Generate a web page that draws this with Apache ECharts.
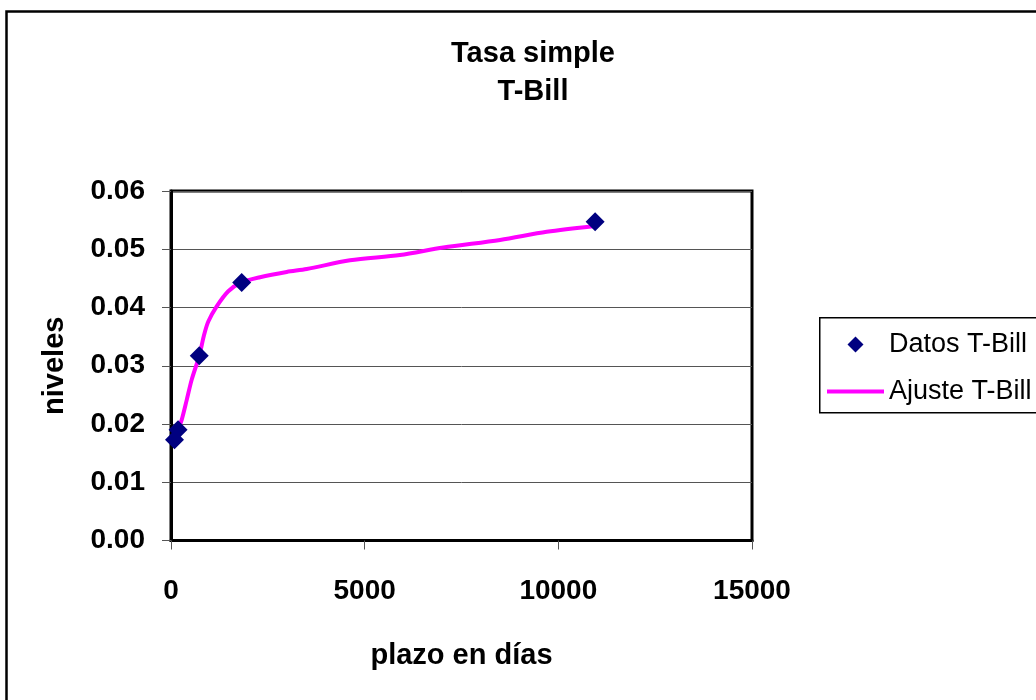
<!DOCTYPE html>
<html>
<head>
<meta charset="utf-8">
<script src="https://cdn.jsdelivr.net/npm/echarts@6/dist/echarts.min.js"></script>
<style>html,body{margin:0;padding:0;background:#fff}#c{width:1036px;height:700px}</style>
</head>
<body>
<div id="c"></div>
<script>
const titleLines = ['Tasa simple', 'T-Bill'];
const xAxisName = 'plazo en días';
const yAxisName = 'niveles';
const seriesNames = ['Datos T-Bill', 'Ajuste T-Bill'];
const xTicks = [0, 5000, 10000, 15000];
const yTicks = [0, 0.01, 0.02, 0.03, 0.04, 0.05, 0.06];

const datosX = [90, 182, 730, 1825, 10950];
const datosY = [0.0173, 0.0190, 0.0317, 0.0443, 0.0547];

const ajusteX = [90, 182, 276, 405, 534, 730, 850, 963, 1180, 1479, 1825, 2298, 2987, 3504, 4621, 5912, 7030, 8496, 9700, 10950];
const ajusteY = [0.0172, 0.0190, 0.0207, 0.0241, 0.0276, 0.0317, 0.0352, 0.0376, 0.0402, 0.0428, 0.0443, 0.0452, 0.0461, 0.0466, 0.0481, 0.0490, 0.0503, 0.0516, 0.0530, 0.0540];

const FONT = '"Liberation Sans", Arial, sans-serif';
const chart = echarts.init(document.getElementById('c'), null, {renderer: 'canvas'});

const legendText = {fontFamily: FONT, fontSize: 27, color: '#000'};
// diamond icon centred inside a 57x16 box (move commands set the box)
const diamondIcon = 'path://M0,0M57,16M20.5,8L28.5,0L36.5,8L28.5,16Z';

chart.setOption({
  backgroundColor: '#fff',
  animation: false,
  title: {
    text: titleLines.join('\n'),
    left: 528,
    top: 30,
    textAlign: 'center',
    textStyle: {fontFamily: FONT, fontSize: 29, fontWeight: 'bold', color: '#000', lineHeight: 38}
  },
  graphic: [
    {type: 'rect', left: 4, top: 9, shape: {width: 1100, height: 800}, style: {fill: 'none', stroke: '#000', lineWidth: 2.5}, silent: true, z: -1},
    {type: 'rect', left: 819, top: 317, shape: {width: 300, height: 95}, style: {fill: '#fff', stroke: '#000', lineWidth: 1.5}, silent: true, z: 0}
  ],
  legend: [
    {
      left: 822, top: 326, padding: 5,
      itemWidth: 57, itemHeight: 16,
      z: 10,
      data: [{name: seriesNames[0], icon: diamondIcon}],
      textStyle: legendText
    },
    {
      left: 822, top: 373, padding: 5,
      itemWidth: 57, itemHeight: 4,
      z: 10,
      data: [{name: seriesNames[1], icon: 'rect'}],
      textStyle: legendText
    }
  ],
  grid: {
    left: 171, right: 284, top: 191, bottom: 159.5,
    show: true, borderColor: '#000', borderWidth: 3, backgroundColor: '#fff'
  },
  xAxis: {
    type: 'value',
    min: xTicks[0], max: xTicks[xTicks.length - 1], interval: 5000,
    name: xAxisName, nameLocation: 'middle', nameGap: 101,
    nameTextStyle: {fontFamily: FONT, fontSize: 29, fontWeight: 'bold', color: '#000'},
    axisLine: {show: true, lineStyle: {color: '#000', width: 3}},
    axisTick: {show: true, length: 9, lineStyle: {color: '#555', width: 1}},
    splitLine: {show: false},
    axisLabel: {fontFamily: FONT, fontSize: 28, fontWeight: 'bold', color: '#000', margin: 37,
      formatter: v => String(v)}
  },
  yAxis: {
    type: 'value',
    min: yTicks[0], max: yTicks[yTicks.length - 1], interval: 0.01,
    name: yAxisName, nameLocation: 'middle', nameGap: 102, nameRotate: 90,
    nameTextStyle: {fontFamily: FONT, fontSize: 29, fontWeight: 'bold', color: '#000'},
    axisLine: {show: true, lineStyle: {color: '#000', width: 3}},
    axisTick: {show: true, length: 9, lineStyle: {color: '#555', width: 1}},
    splitLine: {show: true, lineStyle: {color: '#555', width: 1}},
    axisLabel: {fontFamily: FONT, fontSize: 28, fontWeight: 'bold', color: '#000', margin: 26,
      formatter: v => v.toFixed(2)}
  },
  series: [
    {
      name: seriesNames[1],
      type: 'line',
      data: ajusteX.map((x, i) => [x, ajusteY[i]]),
      smooth: 0.3,
      symbol: 'none',
      lineStyle: {color: '#FF00FF', width: 4},
      itemStyle: {color: '#FF00FF'},
      z: 2
    },
    {
      name: seriesNames[0],
      type: 'scatter',
      data: datosX.map((x, i) => [x, datosY[i]]),
      symbol: 'diamond',
      symbolSize: 19,
      itemStyle: {color: '#000080', opacity: 1},
      z: 3
    }
  ]
});
</script>
</body>
</html>
